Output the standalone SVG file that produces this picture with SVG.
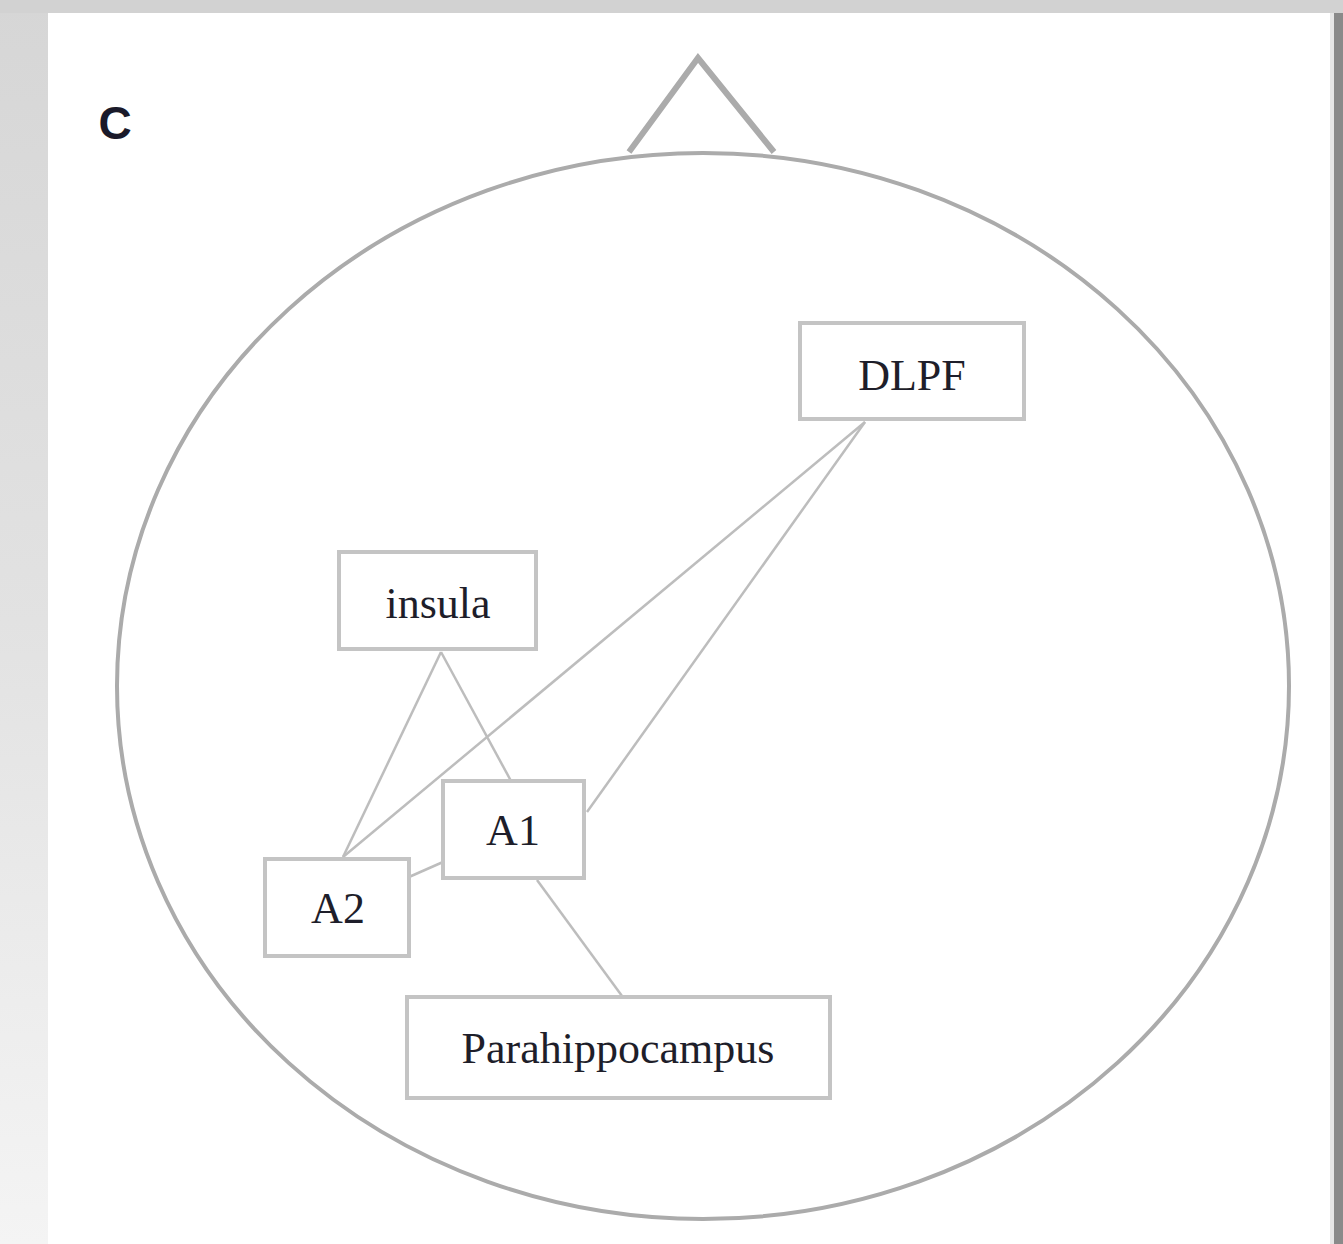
<svg xmlns="http://www.w3.org/2000/svg" width="1343" height="1244" viewBox="0 0 1343 1244">
<defs>
<linearGradient id="bgl" x1="0" y1="0" x2="0" y2="1">
<stop offset="0" stop-color="#d6d6d6"/>
<stop offset="0.5" stop-color="#e2e2e2"/>
<stop offset="1" stop-color="#f4f4f4"/>
</linearGradient>
</defs>
<style>
.box{fill:#fff;stroke:#c4c4c4;stroke-width:4}
.lbl{font-family:"Liberation Serif","Times New Roman",serif;font-size:44px;fill:#1e1e2a;text-anchor:middle;dominant-baseline:central}
.edge{stroke:#bdbdbd;stroke-width:2.5;fill:none}
</style>
<rect x="0" y="0" width="1343" height="1244" fill="url(#bgl)"/>
<rect x="0" y="0" width="1343" height="13" fill="#d2d2d2"/>
<rect x="1330" y="13" width="13" height="1231" fill="#8a8a8a"/>
<rect x="1330" y="13" width="4" height="1231" fill="#e6e6e6"/>
<rect x="48" y="13" width="1282" height="1231" fill="#ffffff"/>
<text x="115" y="123" font-family="Liberation Sans, Arial, sans-serif" font-size="46" font-weight="bold" fill="#1a1a2a" text-anchor="middle" dominant-baseline="central">C</text>
<g id="head">
<ellipse cx="703" cy="686" rx="586" ry="533" fill="none" stroke="#ababab" stroke-width="4"/>
<polyline points="629,152 698,58 774,152" fill="none" stroke="#ababab" stroke-width="6" stroke-linejoin="miter"/>
</g>
<g id="connectors">
<line class="edge" x1="441" y1="652" x2="343" y2="857"/>
<line class="edge" x1="441" y1="652" x2="511" y2="781"/>
<line class="edge" x1="865" y1="422" x2="343" y2="857"/>
<line class="edge" x1="865" y1="422" x2="587" y2="812"/>
<line class="edge" x1="409" y1="877" x2="443" y2="862"/>
<line class="edge" x1="537" y1="880" x2="622" y2="996"/>
</g>
<g id="DLPF"><rect class="box" x="800" y="323" width="224" height="96"/><text class="lbl" x="912" y="375">DLPF</text></g>
<g id="insula"><rect class="box" x="339" y="552" width="197" height="97"/><text class="lbl" x="438" y="603">insula</text></g>
<g id="A1"><rect class="box" x="443" y="781" width="141" height="97"/><text class="lbl" x="513" y="830">A1</text></g>
<g id="A2"><rect class="box" x="265" y="859" width="144" height="97"/><text class="lbl" x="338" y="908">A2</text></g>
<g id="Parahippocampus"><rect class="box" x="407" y="997" width="423" height="101"/><text class="lbl" x="618" y="1048">Parahippocampus</text></g>
</svg>
